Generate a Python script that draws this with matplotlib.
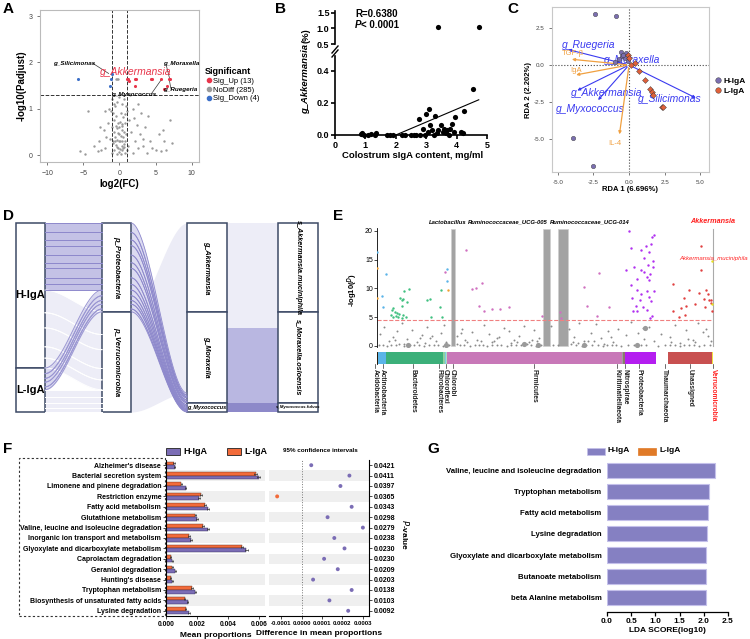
import numpy as np
import matplotlib
matplotlib.use('Agg')
import matplotlib.pyplot as plt
from matplotlib.patches import Rectangle
from matplotlib.lines import Line2D

plt.rcParams['font.family'] = ['Liberation Sans', 'DejaVu Sans']

# ---------------- data ----------------
# A: volcano
up_x = [1.0, 1.2, 1.3, 2.2, 2.3, 2.2, 4.3, 4.5, 5.8, 6.8, 7.0, 6.2, 6.6]
up_y = [1.65, 1.65, 1.6, 1.65, 1.65, 1.5, 1.65, 1.65, 1.65, 1.65, 1.65, 1.43, 1.5]
down_x = [-5.8, -1.2, -1.3, -1.1]
down_y = [1.64, 1.64, 1.48, 1.75]
ns_x = [-1.0, -0.8, -0.6, -0.3, 0.0, 0.3, 0.6, 0.9, 1.1, -1.2, -0.9, -0.5, 0.2, 0.5, 0.8,
        -0.7, -0.2, 0.1, 0.4, 0.7, 1.3, -1.1, -0.4, 0.0, 0.3, 0.6, -0.8, -0.2, 0.9, -0.6,
        0.2, 0.5, -1.3, -0.3, 0.0, 0.8, -0.9, -0.5, 0.3, 0.6, 1.2, -0.2, 0.1, 0.4, -0.7,
        -1.0, -0.4, 0.2, 0.7, 1.0, -0.1, 0.5, -4.3, -2.7, -2.9, -3.5, -5.5, -4.8, -3.0, -2.2,
        -2.0, -1.8, -1.6, -2.5, 1.6, 1.8, 2.0, 2.2, 2.4, 2.6, 2.8, 3.0, 3.2, 3.5, 3.8,
        4.2, 4.5, 5.0, 5.5, 6.0, 6.2, 6.5, 7.0, 7.2, 5.8, 4.0, 2.5, 1.5, -1.5, -2.0,
        1.9, 3.3, -0.5, -0.2, -0.35, -0.6, 0.1, -0.9, 0.4, -0.3, 0.6, 0.0, -0.5, 0.3]
ns_y = [1.2, 1.1, 1.05, 1.15, 1.25, 1.1, 1.2, 1.05, 0.95, 0.95, 0.9, 0.85, 0.9, 0.82, 0.88,
        0.75, 0.7, 0.72, 0.68, 0.7, 0.75, 0.6, 0.58, 0.6, 0.55, 0.5, 0.5, 0.48, 0.45, 0.4,
        0.42, 0.38, 0.35, 0.33, 0.3, 0.3, 0.25, 0.22, 0.2, 0.24, 0.2, 0.15, 0.12, 0.1, 0.1,
        0.05, 0.03, 0.02, 0.05, 0.1, 0.07, 0.15, 0.94, 0.61, 0.3, 0.2, 0.08, 0.03, 0.08, 0.55,
        0.15, 0.4, 0.7, 0.1, 0.5, 1.0, 0.8, 0.3, 0.65, 0.15, 0.45, 0.9, 0.2, 0.6, 0.05,
        0.3, 0.15, 0.1, 0.45, 0.55, 0.3, 0.1, 0.75, 0.25, 0.08, 0.85, 1.1, 1.3, 1.0, 0.95,
        0.05, 0.35, 1.64, 1.64, 1.64, 0.3, 0.3, 0.3, 0.3, 0.18, 0.18, 0.45, 0.62, 0.62]

# B: correlation
b_x = [0.85, 0.9, 0.95, 1.1, 1.2, 1.3, 1.35, 1.7, 1.8, 1.9, 2.2, 2.3, 2.5, 2.6, 2.65, 2.75,
       2.8, 2.9, 2.95, 3.0, 3.05, 3.1, 3.12, 3.2, 3.25, 3.3, 3.35, 3.4, 3.5, 3.55, 3.6, 3.65,
       3.7, 3.75, 3.8, 3.85, 3.9, 3.95, 4.15, 4.2, 4.25, 4.55]
b_y = [0.005, 0.012, 0.0, 0.0, 0.005, 0.0, 0.01, 0.0, 0.0, 0.0, 0.0, 0.0, 0.0, 0.0, 0.0, 0.1,
       0.0, 0.04, 0.0, 0.13, 0.02, 0.16, 0.06, 0.03, 0.0, 0.12, 0.01, 0.03, 0.06, 0.02, 0.04, 0.01,
       0.03, 0.0, 0.04, 0.07, 0.02, 0.11, 0.02, 0.01, 0.15, 0.285]
b_hi_x = [3.4, 4.75]
b_hi_y = [1.05, 1.05]
fit_slope, fit_icpt, fit_x0, fit_x1 = 0.08, -0.16, 2.0, 4.73

# C: RDA
c_h_x = [-2.4, -0.9, -3.9, -2.5, -0.6, -0.5, -0.2, -0.3, -0.7, -0.1, -1.0, -0.4]
c_h_y = [3.4, 3.3, -4.9, -6.8, 0.9, 0.6, 0.8, 0.5, 0.4, 0.3, 0.2, 0.7]
c_l_x = [-0.05, 0.0, 0.4, 0.7, 1.1, 1.5, 1.6, 1.7, 2.3, 2.35, 0.1]
c_l_y = [0.7, 0.5, 0.1, -0.4, -1.0, -1.6, -1.8, -2.0, -2.8, -2.85, 0.0]
c_taxa = ['g_Ruegeria', 'g_Moraxella', 'g_Akkermansia', 'g_Myxococcus', 'g_Silicimonas']
c_taxa_x = [-4.45, -1.2, -3.8, -2.3, 4.85]
c_taxa_y = [1.08, 0.25, -1.8, -2.5, -2.3]
c_taxa_lx = [-2.85, 0.2, -1.6, -2.7, 2.85]
c_taxa_ly = [1.35, 0.34, -1.9, -2.95, -2.3]
c_env = ['TGF-β', 'IgA', 'IL-4']
c_env_x = [-4.2, -3.9, -0.7]
c_env_y = [0.4, -0.7, -4.85]
c_env_lx = [-3.95, -3.7, -1.0]
c_env_ly = [0.75, -0.4, -5.3]

# D: alluvial (relative abundance strands per sample)
d_h_proteo = [0.05, 0.04, 0.03, 0.05, 0.04, 0.03, 0.05, 0.035, 0.03]
d_h_verru = [0.12, 0.08, 0.1, 0.06, 0.052]
d_l_proteo = [0.03, 0.025, 0.02, 0.025, 0.015]
d_l_verru = [0.04, 0.03, 0.025, 0.023]
d_genus = ['g_Akkermansia', 'g_Moraxella', 'g_Myxococcus']
d_genus_v = [0.47, 0.48, 0.05]
d_species = ['s_Akkermansia.muciniphila', 's_Moraxella.osloensis', 's_Myxococcus.fulvus']
d_link = 0.1   # share of the lower genus stack reached by the Proteobacteria strands

# E: manhattan
e_phyla = ['Acidobacteria', 'Actinobacteria', 'Bacteroidetes', 'Fibrobacteres', 'Chloroflexi',
           'Chlorobi', 'Firmicutes', 'Kiritimatiellaeota', 'Nitrospirae', 'Proteobacteria',
           'Thaumarchaeota', 'Unassigned', 'Verrucomicrobia']
e_counts = [3, 24, 171, 6, 3, 3, 522, 3, 6, 93, 36, 132, 3]
e_colors = ['#f0a030', '#5ab4e8', '#3cb07a', '#8fd0a0', '#7fc8e8', '#b0e0c0', '#c878b8',
            '#a0a0a0', '#8c7a6b', '#b41ef0', '#ffffff', '#c85050', '#f0e040']
e_nudge = [-6, 2, -4, -17, 0, 18, 0, -16, 5, -4, 9, 0, 2]
e_actino_x = [1, 26, 16, 19, 208, 210]
e_actino_y = [16.4, 12.5, 8.6, 6.8, 13.4, 11.3]
e_acido_x = [1, 1, 212]
e_acido_y = [13.6, 8.3, 9.7]
e_bact_x = [44, 49, 54, 59, 67, 41, 47, 57, 64, 74, 79, 86, 69, 74, 79, 75, 82, 97, 89, 149,
            159, 161, 187, 191, 194]
e_bact_y = [6.26, 6.55, 5.97, 5.68, 5.5, 5.39, 5.1, 5.2, 4.99, 4.81, 5.39, 5.1, 8.29, 8.0,
            8.1, 6.96, 9.6, 9.86, 7.7, 8.0, 8.1, 5.1, 6.84, 9.74, 4.99]
e_firm_x = [204, 266, 284, 297, 314, 304, 319, 344, 367, 394, 494, 547, 551, 619, 629, 664, 659, 694]
e_firm_y = [12.8, 16.7, 9.9, 10.1, 10.9, 6.96, 6.1, 6.4, 6.4, 6.7, 5.2, 5.9, 4.8, 10.3, 7.0, 12.6, 5.2, 6.8]
e_prot_x = [754, 829, 824, 761, 789, 804, 814, 821, 799, 827, 769, 789, 811, 827, 799, 744,
            779, 809, 817, 814, 759, 779, 807, 829, 791, 814, 764, 787, 819, 774, 797, 809,
            779, 766, 824, 817]
e_prot_y = [19.9, 19.3, 19.0, 17.1, 16.7, 17.3, 16.4, 17.7, 15.2, 14.7, 13.8, 13.2, 14.1,
            13.8, 12.8, 13.2, 11.6, 11.9, 12.5, 11.4, 10.6, 9.7, 9.6, 9.6, 9.0, 8.5, 8.3, 8.0,
            7.8, 7.0, 6.8, 6.3, 6.1, 6.0, 5.2, 4.8]
e_unas_x = [969, 969, 884, 934, 984, 964, 989, 919, 979, 951, 994, 999, 925, 909, 982, 999,
            884, 904, 1001, 921]
e_unas_y = [17.3, 13.2, 10.7, 9.7, 9.7, 9.2, 9.1, 8.4, 8.1, 7.2, 8.0, 8.0, 7.0, 6.6, 6.7, 7.4,
            6.0, 5.1, 6.1, 5.4]
e_verru_x = [1003, 1003]
e_verru_y = [14.7, 7.3]
e_ns_x = [10, 20, 35, 48, 60, 75, 90, 105, 120, 135, 150, 160, 175, 190, 200, 240, 255, 270,
          285, 300, 320, 335, 350, 365, 380, 395, 410, 425, 440, 455, 470, 485, 520, 575, 590,
          605, 620, 640, 655, 670, 690, 705, 720, 745, 760, 780, 800, 815, 830, 850, 875, 890,
          905, 925, 945, 960, 975, 990, 1000, 55, 130, 165, 250, 310, 360, 420, 465, 600, 650,
          700, 880, 930, 985, 82, 145, 205, 262, 345, 402, 480, 585, 630, 680, 795, 950]
e_ns_y = [2.1, 3.2, 0.8, 1.5, 2.6, 3.9, 1.2, 2.8, 0.6, 1.9, 3.3, 1.4, 0.9, 2.2, 3.6, 1.7, 3.0,
          0.7, 2.4, 1.1, 3.7, 2.0, 0.8, 1.6, 3.1, 2.5, 1.0, 1.8, 3.4, 0.6, 2.7, 1.3, 3.5, 2.9,
          1.5, 4.0, 0.9, 2.2, 3.8, 1.4, 2.6, 0.7, 3.0, 1.9, 4.1, 2.3, 1.2, 3.3, 0.8, 2.0, 1.6,
          3.6, 0.5, 2.8, 1.1, 3.9, 2.4, 1.7, 0.9, 1.0, 1.3, 1.8, 2.2, 0.9, 1.4, 0.7, 1.1, 0.5,
          0.8, 1.5, 0.6, 1.2, 2.9, 0.4, 0.5, 0.6, 1.0, 0.7, 0.5, 0.9, 0.6, 0.8, 0.4, 3.1, 0.6]
e_base_x = [5, 18, 30, 42, 58, 66, 80, 98, 110, 125, 140, 155, 170, 183, 196, 215, 240, 248,
            260, 278, 292, 305, 318, 330, 345, 358, 372, 388, 400, 415, 430, 448, 460, 475, 490,
            525, 540, 580, 595, 612, 626, 644, 660, 675, 688, 702, 716, 730, 750, 770, 790,
            805, 840, 860, 875, 890, 905, 918, 932, 948, 962, 978, 995]
e_base_y = [0.1, 0.2, 0.05, 0.15, 0.1, 0.25, 0.05, 0.1, 0.2, 0.1, 0.05, 0.15, 0.1, 0.2, 0.05,
            0.1, 0.3, 0.15, 0.1, 0.05, 0.2, 0.1, 0.15, 0.05, 0.1, 0.2, 0.1, 0.05, 0.15, 0.1,
            0.2, 0.3, 0.1, 0.05, 0.15, 0.1, 0.2, 0.25, 0.1, 0.05, 0.15, 0.1, 0.2, 0.05, 0.1,
            0.15, 0.1, 0.05, 0.2, 0.1, 0.15, 0.1, 0.05, 0.2, 0.1, 0.15, 0.05, 0.1, 0.2, 0.1,
            0.05, 0.15, 0.1]
e_big_x = [94, 207, 439, 482, 619, 801, 779]
e_big_y = [0.1, 0.1, 0.4, 0.1, 0.1, 3.1, 0.1]
e_hl = ['Lactobacillus', 'Ruminococcaceae_UCG-005', 'Ruminococcaceae_UCG-014']
e_hl_x = [228, 506, 556]
e_hl_w = [12, 20, 29]
e_hl_top = [20.3, 20.3, 20.3]
e_hl_lx = [212, 392, 637]
e_thresh = 4.5

# F: STAMP
f_paths = ["Alzheimer's disease", 'Bacterial secretion system', 'Limonene and pinene degradation',
           'Restriction enzyme', 'Fatty acid metabolism', 'Glutathione metabolism',
           'Valine, leucine and isoleucine degradation', 'Inorganic ion transport and metabolism',
           'Glyoxylate and dicarboxylate metabolism', 'Caprolactam degradation',
           'Geraniol degradation', "Hunting's disease", 'Tryptophan metabolism',
           'Biosynthesis of unsaturated fatty acids', 'Lysine degradation']
f_l = [0.0005, 0.0058, 0.0010, 0.00227, 0.0025, 0.0019, 0.0024, 0.0015, 0.0049, 0.0003,
       0.0004, 0.0003, 0.00167, 0.0012, 0.00127]
f_h = [0.00055, 0.0060, 0.00127, 0.00216, 0.0027, 0.0020, 0.0027, 0.0016, 0.0052, 0.0004,
       0.0006, 0.0004, 0.0019, 0.0014, 0.0015]
f_err = [0.00005, 0.0001, 0.00005, 0.00006, 0.00006, 0.00005, 0.00006, 0.00005, 0.00008,
         0.00003, 0.00004, 0.00003, 0.00005, 0.00005, 0.00005]
f_diff = [0.000047, 0.000234, 0.00019, -0.00012, 0.000245, 0.000127, 0.0003, 0.00016,
          0.00021, 0.00011, 0.000177, 0.000056, 0.000245, 0.000136, 0.000228]
f_p = ['0.0421', '0.0411', '0.0397', '0.0365', '0.0343', '0.0298', '0.0279', '0.0238',
       '0.0230', '0.0230', '0.0209', '0.0203', '0.0138', '0.0103', '0.0092']

# G: LEfSe
g_paths = ['Valine, leucine and isoleucine degradation', 'Tryptophan metabolism',
           'Fatty acid metabolism', 'Lysine degradation',
           'Glyoxylate and dicarboxylate metabolism', 'Butanoate metabolism',
           'beta Alanine metabolism']
g_lda = [2.23, 2.11, 2.08, 2.06, 2.05, 2.05, 2.04]

PURPLE = '#7b6db5'
ORANGE = '#f26b3a'

# ---------------- figure ----------------
W, H = 750, 639
fig = plt.figure(figsize=(7.5, 6.39), dpi=100)


def box(l, t, r, b):
    return [l / W, 1 - b / H, (r - l) / W, (b - t) / H]


def ftext(x, y, s, **kw):
    return fig.text(x / W, 1 - y / H, s, **kw)


def fline(xs, ys, **kw):
    fig.add_artist(Line2D([x / W for x in xs], [1 - y / H for y in ys], **kw))


for lab, x, y in [('A', 8, 9), ('B', 280, 9), ('C', 513, 9), ('D', 8, 216),
                  ('E', 338, 216), ('F', 8, 449), ('G', 433, 449)]:
    ftext(x, y, lab, fontsize=11, fontweight='bold', ha='center', va='center')

# ---- A ----
ax = fig.add_axes(box(40, 10, 199, 162))
ax.scatter(ns_x, ns_y, s=3, c='#9a9a9a', lw=0, zorder=2)
ax.scatter(up_x, up_y, s=5, c='#e8364b', lw=0, zorder=3)
ax.scatter(down_x, down_y, s=5, c='#3c6fc8', lw=0, zorder=3)
ax.axhline(1.3, ls='--', color='#333333', lw=0.7)
ax.axvline(-1, ls='--', color='#333333', lw=0.7)
ax.axvline(1, ls='--', color='#333333', lw=0.7)
ax.set_xlim(-11, 11)
ax.set_ylim(-0.15, 3.13)
ax.set_xticks([-10, -5, 0, 5, 10])
ax.set_yticks([0, 1, 2, 3])
ax.tick_params(labelsize=5, colors='#444444', length=2, width=0.5)
for s in ax.spines.values():
    s.set_color('#bbbbbb')
ax.set_xlabel('log2(FC)', fontsize=7, fontweight='bold', labelpad=2)
ax.set_ylabel('-log10(Padjust)', fontsize=7, fontweight='bold', labelpad=1)
ax.text(2.3, 1.79, 'g_Akkermansia', color='#e8364b', fontsize=7.5, style='italic',
        ha='center', va='center')
ann = dict(fontsize=4.5, style='italic', fontweight='bold', ha='center', va='center')
ax.text(-6.3, 1.98, 'g_Silicimonas', **ann)
ax.plot([-3.7, -1.5], [1.98, 1.76], color='#333', lw=0.5)
ax.text(8.5, 1.97, 'g_Moraxella', **ann)
ax.plot([6.5, 6.9], [1.92, 1.67], color='#333', lw=0.5)
ax.text(8.4, 1.42, 'g_Ruegeria', **ann)
ax.plot([7.1, 6.9], [1.44, 1.62], color='#333', lw=0.5)
ax.text(1.9, 1.31, 'g_Myxococcus', **ann)
ax.plot([4.4, 5.8], [1.32, 1.63], color='#333', lw=0.5)
hd = [Line2D([], [], marker='o', ls='', color=c, markersize=3) for c in ['#e8364b', '#9a9a9a', '#3c6fc8']]
leg = ax.legend(hd, ['Sig_Up (13)', 'NoDiff (285)', 'Sig_Down (4)'], title='Significant',
                loc='upper left', bbox_to_anchor=(201 / W, 1 - 63 / H),
                bbox_transform=fig.transFigure, frameon=False, fontsize=5.5,
                title_fontproperties={'weight': 'bold', 'size': 6.5},
                handletextpad=0.1, labelspacing=0.2, handlelength=1.0, borderpad=0)
leg._legend_box.align = 'left'

# ---- B ----
axt = fig.add_axes(box(335, 11, 490, 44))
axb = fig.add_axes(box(335, 56, 490, 135))
axb.scatter(b_x, b_y, s=14, c='black', lw=0, clip_on=False, zorder=3)
axt.scatter(b_hi_x, b_hi_y, s=14, c='black', lw=0, clip_on=False, zorder=3)
fx = np.array([fit_x0, fit_x1])
axb.plot(fx, fit_slope * fx + fit_icpt, color='black', lw=0.8)
for a in (axt, axb):
    a.set_xlim(0, 5.1)
    a.spines['top'].set_visible(False)
    a.spines['right'].set_visible(False)
    a.spines['left'].set_linewidth(1.2)
    a.tick_params(labelsize=6.5, width=1.2, length=3, pad=1)
axt.set_ylim(0.5, 1.55)
axt.set_yticks([0.5, 1.0, 1.5])
axt.set_yticklabels(['0.5', '1.0', '1.5'], fontweight='bold')
axt.spines['bottom'].set_visible(False)
axt.set_xticks([])
axb.set_ylim(0, 0.49)
axb.set_yticks([0.0, 0.2, 0.4])
axb.set_yticklabels(['0.0', '0.2', '0.4'], fontweight='bold')
axb.set_xticks([0, 1, 2, 3, 4, 5])
axb.set_xticklabels(['0', '1', '2', '3', '4', '5'], fontweight='bold')
axb.spines['bottom'].set_bounds(0, 5)
axb.spines['bottom'].set_linewidth(1.2)
axb.set_xlabel('Colostrum sIgA content, mg/ml', fontsize=6.8, fontweight='bold', labelpad=1)
fline([332, 338], [53, 46], color='black', lw=1.0)
fline([332, 338], [57, 50], color='black', lw=1.0)
ftext(306, 114, 'g_Akkermansia', fontsize=6.8, fontweight='bold', style='italic',
      rotation=90, ha='center', va='bottom')
ftext(306, 43, '(%)', fontsize=6.8, fontweight='bold', rotation=90, ha='center', va='bottom')
ftext(355, 14, 'R=0.6380', fontsize=7, fontweight='bold', va='center')
ftext(355, 25, 'P', fontsize=7, fontweight='bold', style='italic', va='center')
ftext(361, 25, '< 0.0001', fontsize=7, fontweight='bold', va='center')

# ---- C ----
axc = fig.add_axes(box(552, 7, 709, 172))
axc.set_xlim(-5.4, 5.6)
axc.set_ylim(-7.2, 3.9)
axc.axhline(0, ls=':', color='#444', lw=0.8)
axc.axvline(0, ls=':', color='#444', lw=0.8)
for nm, x, y, lx, ly in zip(c_taxa, c_taxa_x, c_taxa_y, c_taxa_lx, c_taxa_ly):
    axc.annotate('', xy=(x, y), xytext=(0, 0),
                 arrowprops=dict(arrowstyle='-|>', color='#3a3af0', lw=0.8, mutation_scale=4))
    axc.text(lx, ly, nm, color='#3a3af0', fontsize=7.5, style='italic', ha='center', va='center')
for nm, x, y, lx, ly in zip(c_env, c_env_x, c_env_y, c_env_lx, c_env_ly):
    axc.annotate('', xy=(x, y), xytext=(0, 0),
                 arrowprops=dict(arrowstyle='-|>', color='#f0a040', lw=0.9, mutation_scale=4))
    axc.text(lx, ly, nm, color='#f0a040', fontsize=5.5, ha='center', va='center')
axc.scatter(c_h_x, c_h_y, s=10, c='#7b6fb0', edgecolors='#333', lw=0.3, zorder=4)
axc.scatter(c_l_x, c_l_y, s=9, marker='D', c='#e0603a', edgecolors='#333', lw=0.3, zorder=4)
axc.set_xticks([-5, -2.5, 0, 2.5, 5])
axc.set_xticklabels(['-5.0', '-2.5', '0.0', '2.5', '5.0'])
axc.set_yticks([-5, -2.5, 0, 2.5])
axc.set_yticklabels(['-5.0', '-2.5', '0.0', '2.5'])
axc.tick_params(labelsize=4.5, colors='#444', length=2, width=0.5)
for s in axc.spines.values():
    s.set_color('#c8c8c8')
axc.set_xlabel('RDA 1 (6.696%)', fontsize=5.5, fontweight='bold', labelpad=1)
axc.set_ylabel('RDA 2 (2.202%)', fontsize=5.5, fontweight='bold', labelpad=1)
hc = [Line2D([], [], marker='o', ls='', color='#7b6fb0', mec='#333', mew=0.3, markersize=4),
      Line2D([], [], marker='o', ls='', color='#e0603a', mec='#333', mew=0.3, markersize=4)]
axc.legend(hc, ['H-IgA', 'L-IgA'], loc='upper left', bbox_to_anchor=(710 / W, 1 - 73 / H),
           bbox_transform=fig.transFigure, frameon=False,
           handletextpad=0.1, labelspacing=0.3, handlelength=1.0, borderpad=0,
           prop={'weight': 'bold', 'size': 6})

# ---- D ----
axd = fig.add_axes(box(10, 218, 330, 416))
axd.set_xlim(10, 330)
axd.set_ylim(416, 218)
axd.axis('off')
Y0, SPAN = 223, 189
cols = [(16, 45), (102, 131), (187, 227), (278, 318)]
tt = np.linspace(0, 1, 60)
ss = 3 * tt ** 2 - 2 * tt ** 3


def band(x0, x1, a0, b0, a1, b1, fc, ec=None, lw=0.6, alpha=1.0):
    xs = x0 + (x1 - x0) * tt
    top = a0 + (a1 - a0) * ss
    bot = b0 + (b1 - b0) * ss
    axd.fill_between(xs, top, bot, color=fc, lw=0, alpha=alpha)
    if ec:
        axd.plot(xs, top, color=ec, lw=lw)
        axd.plot(xs, bot, color=ec, lw=lw)


def stack(vals, start):
    out = []
    c = start
    for v in vals:
        out.append((c, c + v * SPAN))
        c += v * SPAN
    return out, c


src_hp, c1 = stack(d_h_proteo, Y0)
src_hv, c1 = stack(d_h_verru, c1)
h_end = c1
src_lp, c1 = stack(d_l_proteo, c1)
src_lv, c1 = stack(d_l_verru, c1)
tgt_hp, c2 = stack(d_h_proteo, Y0)
tgt_lp, c2 = stack(d_l_proteo, c2)
p_end = c2
tgt_hv, c2 = stack(d_h_verru, c2)
tgt_lv, c2 = stack(d_l_verru, c2)

x0, x1 = cols[0][1], cols[1][0]
for s, t in zip(src_hv + src_lv, tgt_hv + tgt_lv):
    band(x0, x1, s[0], s[1], t[0], t[1], '#ededf7', ec='white', lw=0.7)
for s, t in zip(src_lp, tgt_lp):
    band(x0, x1, s[0], s[1], t[0], t[1], '#d9d8ef', ec='#9a96d2', lw=0.7)
for s, t in zip(src_hp, tgt_hp):
    band(x0, x1, s[0], s[1], t[0], t[1], '#c4c2e6', ec='#8e89cc', lw=0.7)

# phylum -> genus
g_tops = np.cumsum([0] + d_genus_v[:-1]) * SPAN + Y0
g_bots = np.cumsum(d_genus_v) * SPAN + Y0
x0, x1 = cols[1][1], cols[2][0]
r1 = Y0 + SPAN
r0 = r1 - d_link * SPAN
band(x0, x1, p_end, Y0 + SPAN, g_tops[0], r0, '#ececf6')
for s in tgt_hp + tgt_lp:
    a1 = r0 + (s[0] - Y0) / (p_end - Y0) * (r1 - r0)
    b1 = r0 + (s[1] - Y0) / (p_end - Y0) * (r1 - r0)
    band(x0, x1, s[0], s[1], a1, b1, '#d4d3ee', ec='#8e89cc', lw=0.6, alpha=0.8)

# genus -> species
mor_mid = g_tops[1] + 0.18 * (g_bots[1] - g_tops[1])
for t, b, c in [(g_tops[0], mor_mid, '#ededf7'), (mor_mid, g_bots[1], '#b9b7e1'),
                (g_tops[2], g_bots[2], '#8d89c9')]:
    axd.add_patch(Rectangle((cols[2][1], t), cols[3][0] - cols[2][1], b - t, color=c, lw=0))

ec = '#3d4a66'
nodes = [(cols[0], Y0, h_end, 'H-IgA'), (cols[0], h_end, Y0 + SPAN, 'L-IgA'),
         (cols[1], Y0, p_end, 'p_Proteobacteria'), (cols[1], p_end, Y0 + SPAN, 'p_Verrucomicrobia')]
for (xa, xb), t, b, nm in nodes:
    axd.add_patch(Rectangle((xa, t), xb - xa, b - t, fc='white', ec=ec, lw=1.1))
    if nm.endswith('IgA'):
        axd.text((xa + xb) / 2, (t + b) / 2, nm, fontsize=8, fontweight='bold', ha='center', va='center')
    else:
        axd.text((xa + xb) / 2, (t + b) / 2, nm, fontsize=5.5, style='italic', fontweight='bold',
                 rotation=-90, ha='center', va='center')
for ci, names in [(2, d_genus), (3, d_species)]:
    xa, xb = cols[ci]
    for t, b, nm in zip(g_tops, g_bots, names):
        axd.add_patch(Rectangle((xa, t), xb - xa, b - t, fc='white', ec=ec, lw=1.1))
        if b - t > 20:
            axd.text((xa + xb) / 2, (t + b) / 2, nm, fontsize=5.2, style='italic', fontweight='bold',
                     rotation=-90, ha='center', va='center')
        else:
            axd.text((xa + xb) / 2, (t + b) / 2, nm, fontsize=3.2 if ci == 3 else 4,
                     style='italic', fontweight='bold', ha='center', va='center')

# ---- E ----
axe = fig.add_axes(box(377, 228, 713, 347))
total = sum(e_counts)
axe.set_xlim(0, total)
axe.set_ylim(-0.2, 20.5)
axe.bar(e_hl_x, e_hl_top, width=e_hl_w, color='#a3a3a3', edgecolor='#cfcfcf', lw=0.5, zorder=1)
axe.scatter(e_base_x, e_base_y, s=2, c='#8a8a8a', lw=0, zorder=2)
axe.scatter(e_ns_x, e_ns_y, s=2, c='#8a8a8a', lw=0, zorder=2)
axe.scatter(e_big_x, e_big_y, s=14, c='#9a9a9a', lw=0, zorder=2)
for xs, ys, col in [(e_acido_x, e_acido_y, '#f0a030'), (e_actino_x, e_actino_y, '#5ab4e8'),
                    (e_bact_x, e_bact_y, '#40c080'), (e_firm_x, e_firm_y, '#d070c0'),
                    (e_prot_x, e_prot_y, '#b030f0'), (e_unas_x, e_unas_y, '#e04040'),
                    (e_verru_x, e_verru_y, '#e8e020')]:
    axe.scatter(xs, ys, s=3, c=col, lw=0, zorder=3)
axe.axhline(e_thresh, ls='--', color='#f08080', lw=0.8, zorder=1)
for nm, x in zip(e_hl, e_hl_lx):
    axe.text(x, 21.1, nm, fontsize=4.2, style='italic', fontweight='bold', ha='center', va='bottom')
axe.text(total, 21.1, 'Akkermansia', fontsize=5.2, style='italic', fontweight='bold',
         color='#ff2020', ha='center', va='bottom')
ftext(748, 258, 'Akkermansia_muciniphila', fontsize=4.3, style='italic', color='#ff2020',
      ha='right', va='center')
axe.spines['top'].set_visible(False)
axe.spines['bottom'].set_visible(False)
axe.spines['right'].set_bounds(0, 20.3)
axe.spines['right'].set_color('#aaaaaa')
axe.spines['left'].set_linewidth(0.6)
axe.set_xticks([])
axe.set_yticks([0, 5, 10, 15, 20])
axe.tick_params(labelsize=5, length=2, width=0.5, pad=1)
ftext(352, 290, r'-log10($\it{P}$)', fontsize=5.5, fontweight='bold', rotation=90,
      ha='center', va='center')

axp = fig.add_axes(box(377, 352, 713, 364))
axp.set_xlim(0, total)
axp.set_ylim(0, 1)
left = np.cumsum([0] + e_counts[:-1])
axp.barh(0.5, e_counts, left=left, height=1, color=e_colors, edgecolor='none')
for s in ['top', 'right', 'bottom']:
    axp.spines[s].set_visible(False)
axp.spines['left'].set_linewidth(0.6)
axp.set_xticks([])
axp.set_yticks([])
for nm, l, n, nd in zip(e_phyla, left, e_counts, e_nudge):
    cx = l + n / 2 + nd
    axp.plot([cx, cx], [0, -0.35], color='#333', lw=0.5, clip_on=False)
    axp.text(cx, -0.4, nm, rotation=-90, fontsize=4.8, fontweight='bold', ha='center', va='top',
             color='#ff2020' if nm == 'Verrucomicrobia' else '#222222')

# ---- F ----
rows = np.arange(len(f_paths))
axf = fig.add_axes(box(166, 460, 265, 616))
axf2 = fig.add_axes(box(269, 460, 369, 616))
for a in (axf, axf2):
    a.set_ylim(len(f_paths) - 0.5, -0.5)
    for i in rows[1::2]:
        a.axhspan(i - 0.5, i + 0.5, color='#efefef', lw=0, zorder=0)
    a.spines['top'].set_visible(False)
axf.barh(rows - 0.17, f_l, height=0.34, color=ORANGE, edgecolor='#5a2a1a', lw=0.3,
         xerr=f_err, error_kw=dict(lw=0.5, capsize=0.8, capthick=0.5, ecolor='#333'))
axf.barh(rows + 0.17, f_h, height=0.34, color=PURPLE, edgecolor='#2a2450', lw=0.3,
         xerr=f_err, error_kw=dict(lw=0.5, capsize=0.8, capthick=0.5, ecolor='#333'))
axf.set_xlim(0, 0.0064)
axf.set_xticks([0, 0.002, 0.004, 0.006])
axf.set_xticklabels(['0.000', '0.002', '0.004', '0.006'])
axf.set_yticks(rows)
axf.set_yticklabels(f_paths)
axf.spines['right'].set_visible(False)
axf.tick_params(axis='y', labelsize=5.0, length=2, width=0.5, pad=1.5)
axf.tick_params(axis='x', labelsize=4.8, length=2, width=0.5, pad=1.5)
for t in axf.get_yticklabels() + axf.get_xticklabels():
    t.set_fontweight('bold')
axf.set_xlabel('Mean proportions', fontsize=6, fontweight='bold', labelpad=3)

dcol = [ORANGE if d < 0 else PURPLE for d in f_diff]
axf2.scatter(f_diff, rows, s=8, c=dcol, lw=0, zorder=3)
axf2.axvline(0, ls=':', color='#777', lw=0.7)
axf2.set_xlim(-0.00016, 0.00033)
axf2.set_xticks([-0.0001, 0, 0.0001, 0.0002, 0.0003])
axf2.set_xticklabels(['-0.0001', '0.0000', '0.0001', '0.0002', '0.0003'])
axf2.yaxis.tick_right()
axf2.set_yticks(rows)
axf2.set_yticklabels(f_p)
axf2.spines['left'].set_visible(False)
axf2.tick_params(axis='y', labelsize=5.0, length=2, width=0.5, pad=1.5)
axf2.tick_params(axis='x', labelsize=4.3, length=2, width=0.5, pad=1.5)
for t in axf2.get_yticklabels() + axf2.get_xticklabels():
    t.set_fontweight('bold')
axf2.set_xlabel('Difference in mean proportions', fontsize=6, fontweight='bold', labelpad=3)
ftext(405, 535, r'$\it{P}$-value', fontsize=6, fontweight='bold', rotation=-90,
      ha='center', va='center')
fig.add_artist(Rectangle((19 / W, 1 - 616 / H), (165 - 19) / W, (616 - 458) / H,
                         transform=fig.transFigure, fill=False, ls=(0, (2, 2)), lw=0.8, ec='#333'))
fig.add_artist(Rectangle((166 / W, 1 - 455 / H), 14 / W, 7 / H, transform=fig.transFigure,
                         fc=PURPLE, ec='#222', lw=0.6))
ftext(183, 451, 'H-IgA', fontsize=6.5, fontweight='bold', va='center')
fig.add_artist(Rectangle((227 / W, 1 - 455 / H), 14 / W, 7 / H, transform=fig.transFigure,
                         fc=ORANGE, ec='#222', lw=0.6))
ftext(244, 451, 'L-IgA', fontsize=6.5, fontweight='bold', va='center')
ftext(283, 451, '95% confidence intervals', fontsize=4.5, fontweight='bold', va='center')

# ---- G ----
gr = np.arange(len(g_paths))
axg = fig.add_axes(box(607, 460, 728, 612))
axg.barh(gr, g_lda, height=0.72, color='#8580c2', edgecolor='#c4c0ea', lw=0.8)
axg.set_xlim(0, 2.5)
axg.set_ylim(len(g_paths) - 0.3, -0.5)
axg.set_yticks(gr)
axg.set_yticklabels(g_paths)
axg.set_xticks([0, 0.5, 1.0, 1.5, 2.0, 2.5])
axg.set_xticklabels(['0.0', '0.5', '1.0', '1.5', '2.0', '2.5'])
for s in ['top', 'right', 'left']:
    axg.spines[s].set_visible(False)
axg.spines['bottom'].set_linewidth(0.9)
axg.tick_params(axis='y', length=0, pad=4, labelsize=5.6)
axg.tick_params(axis='x', length=3, width=0.9, labelsize=6, pad=1)
for t in axg.get_yticklabels() + axg.get_xticklabels():
    t.set_fontweight('bold')
axg.set_xlabel('LDA SCORE(log10)', fontsize=6, fontweight='bold', labelpad=2)
fig.add_artist(Rectangle((587 / W, 1 - 455 / H), 18 / W, 7 / H, transform=fig.transFigure,
                         fc='#8580c2', ec='#c4c0ea', lw=0.5))
ftext(607, 451, 'H-IgA', fontsize=6, fontweight='bold', va='center')
fig.add_artist(Rectangle((638 / W, 1 - 455 / H), 18 / W, 7 / H, transform=fig.transFigure,
                         fc='#e07a28', ec='#e07a28', lw=0.5))
ftext(659, 451, 'L-IgA', fontsize=6, fontweight='bold', va='center')

fig.savefig('out.png', dpi=100)
